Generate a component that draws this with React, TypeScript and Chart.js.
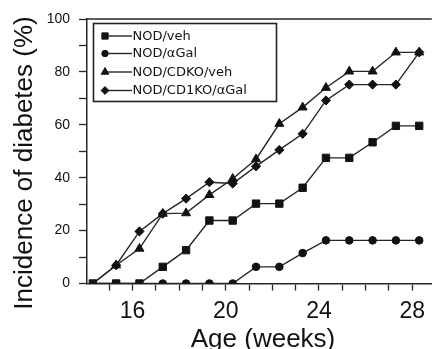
import React, { useEffect, useRef } from 'react';
import { Chart, registerables } from 'chart.js';

Chart.register(...registerables);

// ---- data ----
const WEEKS = [14.3, 15.3, 16.3, 17.3, 18.3, 19.3, 20.3, 21.3, 22.3, 23.3, 24.3, 25.3, 26.3, 27.3, 28.3];
const NOD_VEH = [0, 0, 0, 6.3, 12.6, 23.8, 23.8, 30.2, 30.2, 36.2, 47.5, 47.5, 53.4, 59.6, 59.6];
const NOD_AGAL = [0, 0, 0, 0, 0, 0, 0, 6.3, 6.3, 11.5, 16.3, 16.3, 16.3, 16.3, 16.3];
const CDKO_VEH = [0, 6.9, 13.2, 26.4, 26.6, 33.5, 39.6, 47, 60.4, 66.6, 74, 80.2, 80.2, 87.4, 87.4];
const CD1KO_AGAL = [0, 6.9, 19.7, 26.4, 32.1, 38.3, 37.8, 44.3, 50.5, 56.6, 69.2, 75.2, 75.2, 75.2, 87.4];

const SERIES_NAMES = ['NOD/veh', 'NOD/\u03b1Gal', 'NOD/CDKO/veh', 'NOD/CD1KO/\u03b1Gal'];
const X_TICKS = [15, 16, 17, 18, 19, 20, 21, 22, 23, 24, 25, 26, 27, 28];
const X_LABELS = [16, 20, 24, 28];
const Y_LABELS = [0, 20, 40, 60, 80, 100];
const X_TITLE = 'Age (weeks)';
const Y_TITLE = 'Incidence of diabetes (%)';

const INK = '#121212';
const LINE = '#262626';
const SANS = '"Liberation Sans", Arial, sans-serif';
const LEGEND_FONT = '"DejaVu Sans", Verdana, sans-serif';

const STYLES = ['rect', 'circle', 'triangle', 'rectRot'];
const RADII = [5.2, 3.8, 5.2, 4.6];

function drawMarker(ctx: CanvasRenderingContext2D, style: string, x: number, y: number, r: number) {
  ctx.beginPath();
  if (style === 'rect') {
    const h = r * Math.SQRT1_2;
    ctx.rect(x - h, y - h, 2 * h, 2 * h);
  } else if (style === 'circle') {
    ctx.arc(x, y, r, 0, Math.PI * 2);
  } else if (style === 'triangle') {
    for (let i = 0; i < 3; i++) {
      const a = -Math.PI / 2 + (i * 2 * Math.PI) / 3;
      const px = x + Math.cos(a) * r;
      const py = y + Math.sin(a) * r;
      if (i === 0) ctx.moveTo(px, py);
      else ctx.lineTo(px, py);
    }
    ctx.closePath();
  } else {
    ctx.moveTo(x, y - r);
    ctx.lineTo(x + r, y);
    ctx.lineTo(x, y + r);
    ctx.lineTo(x - r, y);
    ctx.closePath();
  }
  ctx.fill();
  ctx.stroke();
}

const decorPlugin = {
  id: 'decor',
  afterDraw(chart: any) {
    const ctx: CanvasRenderingContext2D = chart.ctx;
    const { left, right, top } = chart.chartArea;
    ctx.save();
    // top frame line
    ctx.strokeStyle = LINE;
    ctx.lineWidth = 1.5;
    ctx.beginPath();
    ctx.moveTo(left, top);
    ctx.lineTo(right, top);
    ctx.stroke();

    // axis titles
    ctx.fillStyle = INK;
    ctx.font = `26px ${SANS}`;
    ctx.textAlign = 'center';
    ctx.textBaseline = 'alphabetic';
    ctx.fillText(X_TITLE, 263, 346.5);

    ctx.save();
    ctx.translate(32, 163);
    ctx.rotate(-Math.PI / 2);
    ctx.font = `26px ${SANS}`;
    ctx.fillText(Y_TITLE, 0, 0);
    ctx.restore();

    // legend box
    ctx.strokeStyle = '#222';
    ctx.lineWidth = 1.6;
    ctx.strokeRect(93.5, 23.5, 183, 78);
    const rowsY = [36, 53.5, 72, 90.5];
    ctx.font = `13px ${LEGEND_FONT}`;
    ctx.textAlign = 'left';
    ctx.textBaseline = 'middle';
    SERIES_NAMES.forEach((name, i) => {
      const y = rowsY[i];
      ctx.strokeStyle = LINE;
      ctx.lineWidth = 1.4;
      ctx.beginPath();
      ctx.moveTo(105, y);
      ctx.lineTo(132, y);
      ctx.stroke();
      ctx.fillStyle = INK;
      ctx.strokeStyle = INK;
      ctx.lineWidth = 1;
      drawMarker(ctx, STYLES[i], 105, y, RADII[i] * 0.85);
      ctx.fillStyle = INK;
      ctx.fillText(name, 132.5, y + 0.5);
    });
    ctx.restore();
  },
};

export default function App() {
  const ref = useRef<HTMLCanvasElement | null>(null);

  useEffect(() => {
    if (!ref.current) return;
    const seriesData = [NOD_VEH, NOD_AGAL, CDKO_VEH, CD1KO_AGAL];
    const datasets = seriesData.map((vals, i) => ({
      label: SERIES_NAMES[i],
      data: vals.map((v, j) => ({ x: WEEKS[j], y: v })),
      borderColor: LINE,
      borderWidth: 1.4,
      backgroundColor: INK,
      pointStyle: STYLES[i],
      pointRadius: (c: any) => {
        if (i === 1 && c.dataIndex < 3) return 0;
        if (i >= 2 && c.dataIndex === 0) return 0;
        return RADII[i];
      },
      pointBackgroundColor: INK,
      pointBorderColor: INK,
      pointBorderWidth: 1,
      tension: 0,
      fill: false,
    }));

    const chart = new Chart(ref.current, {
      type: 'line',
      data: { datasets },
      options: {
        animation: false,
        responsive: false,
        maintainAspectRatio: false,
        layout: { padding: { top: 19, right: 0, left: 0, bottom: 0 } },
        plugins: { legend: { display: false }, tooltip: { enabled: false }, title: { display: false } },
        scales: {
          x: {
            type: 'linear',
            min: 14.05,
            max: 28.84,
            afterBuildTicks: (s: any) => {
              s.ticks = X_TICKS.map((v) => ({ value: v }));
            },
            afterFit: (s: any) => {
              s.height = 65.5;
            },
            ticks: {
              autoSkip: false,
              maxRotation: 0,
              minRotation: 0,
              padding: 7,
              color: INK,
              font: { family: SANS, size: 23 },
              callback: (v: any) => (X_LABELS.includes(Number(v)) ? String(v) : ''),
            },
            grid: { drawOnChartArea: false, drawTicks: true, tickLength: 7, tickColor: LINE, tickWidth: 1.3 },
            border: { color: LINE, width: 1.5 },
          },
          y: {
            type: 'linear',
            min: 0,
            max: 100,
            afterFit: (s: any) => {
              s.width = 87;
            },
            ticks: {
              stepSize: 10,
              padding: 9,
              color: INK,
              font: { family: SANS, size: 14 },
              callback: (v: any) => (Y_LABELS.includes(Number(v)) ? String(v) : ''),
            },
            grid: { drawOnChartArea: false, drawTicks: true, tickLength: 8, tickColor: LINE, tickWidth: 1.3 },
            border: { color: LINE, width: 1.5 },
          },
        },
      },
      plugins: [decorPlugin],
    });
    return () => chart.destroy();
  }, []);

  return (
    <div style={{ position: 'fixed', left: 0, top: 0, width: 438, height: 349, background: '#fff' }}>
      <canvas ref={ref} width={438} height={349} style={{ display: 'block', width: 438, height: 349 }} />
    </div>
  );
}
